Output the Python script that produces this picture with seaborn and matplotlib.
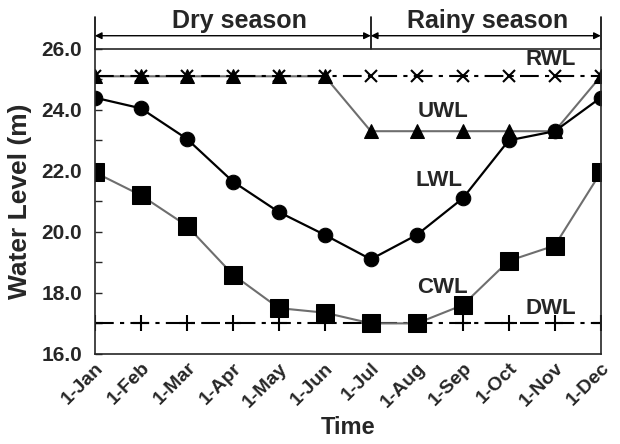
import matplotlib
matplotlib.use("Agg")
import matplotlib.pyplot as plt
import matplotlib.transforms as mtransforms
import seaborn as sns
import pandas as pd

months = ["1-Jan", "1-Feb", "1-Mar", "1-Apr", "1-May", "1-Jun",
          "1-Jul", "1-Aug", "1-Sep", "1-Oct", "1-Nov", "1-Dec"]
rwl = [25.1] * 12
uwl = [25.1, 25.1, 25.1, 25.1, 25.1, 25.1, 23.3, 23.3, 23.3, 23.3, 23.3, 25.1]
lwl = [24.4, 24.05, 23.05, 21.65, 20.65, 19.9, 19.1, 19.9, 21.1, 23.0, 23.3, 24.4]
cwl = [21.95, 21.2, 20.2, 18.6, 17.5, 17.35, 17.0, 17.0, 17.6, 19.05, 19.55, 21.95]
dwl = [17.0] * 12

sns.set_style("ticks")
plt.rcParams['font.family'] = ['Liberation Sans', 'DejaVu Sans']
plt.rcParams['font.weight'] = 'bold'

df = pd.DataFrame({"x": range(len(months)), "RWL": rwl, "UWL": uwl,
                   "LWL": lwl, "CWL": cwl, "DWL": dwl})

fig = plt.figure(figsize=(6.2, 4.44), dpi=100)
ax = fig.add_axes([0.153, 0.203, 0.816, 0.687])

gray = "#6e6e6e"
dashdot = (0, (9, 3, 2, 3))
sns.lineplot(data=df, x="x", y="UWL", ax=ax, color=gray, lw=1.5,
             marker="^", markersize=9.5, markeredgecolor="black", markerfacecolor="black")
sns.lineplot(data=df, x="x", y="RWL", ax=ax, color="black", lw=1.5, linestyle=dashdot,
             marker="x", markersize=8, markeredgewidth=1.5, markeredgecolor="black")
sns.lineplot(data=df, x="x", y="LWL", ax=ax, color="black", lw=1.6,
             marker="o", markersize=10.5, markeredgecolor="black", markerfacecolor="black")
sns.lineplot(data=df, x="x", y="DWL", ax=ax, color="black", lw=1.5, linestyle=dashdot,
             marker="+", markersize=11, markeredgewidth=1.5, markeredgecolor="black")
sns.lineplot(data=df, x="x", y="CWL", ax=ax, color=gray, lw=1.5,
             marker="s", markersize=12.5, markeredgecolor="black", markerfacecolor="black")

ax.set_xlim(0, len(months) - 1)
ax.set_ylim(16, 26)
major = [16, 18, 20, 22, 24, 26]
ax.set_yticks(major)
ax.set_yticks([17, 19, 21, 23, 25], minor=True)
ax.set_yticklabels([f"{v:.1f}" for v in major], fontsize=15, fontweight="bold")
ax.set_xticks(range(len(months)))
ax.set_xticklabels(months, rotation=45, ha="right", va="top", rotation_mode="anchor",
                   fontsize=14, fontweight="bold")
shift = mtransforms.ScaledTranslation(4 / 100, 0, fig.dpi_scale_trans)
for lab in ax.get_xticklabels():
    lab.set_transform(lab.get_transform() + shift)
ax.tick_params(axis="x", length=0, pad=4)
ax.tick_params(axis="y", which="both", length=5, width=1, direction="in", pad=9)
for s in ax.spines.values():
    s.set_linewidth(1.2)
    s.set_visible(True)

ax.set_xlabel("Time", fontsize=17, fontweight="bold", labelpad=4)
ax.set_ylabel("Water Level (m)", fontsize=19, fontweight="bold", labelpad=7)

labels = {"RWL": (9.91, 25.65), "UWL": (7.58, 23.93), "LWL": (7.49, 21.67),
          "CWL": (7.55, 18.18), "DWL": (9.91, 17.5)}
for name, (lx, ly) in labels.items():
    ax.text(lx, ly, name, ha="center", va="center", fontsize=16, fontweight="bold")

# season brackets above the plot
tr = ax.get_xaxis_transform()
for xv in [0, 6, 11]:
    ax.plot([xv, xv], [1.0, 1.105], transform=tr, color="black", lw=1.2, clip_on=False)
for a, b in [(0, 6), (6, 11)]:
    ax.annotate("", xy=(a, 1.043), xytext=(b, 1.043), xycoords=tr, textcoords=tr,
                arrowprops=dict(arrowstyle="<|-|>", color="black", lw=1.0,
                                shrinkA=0, shrinkB=0, mutation_scale=10))
ax.text(3.15, 1.068, "Dry season", transform=tr, ha="center", va="baseline",
        fontsize=18, fontweight="bold")
ax.text(8.54, 1.068, "Rainy season", transform=tr, ha="center", va="baseline",
        fontsize=18, fontweight="bold")

fig.savefig("out.png", dpi=100)
